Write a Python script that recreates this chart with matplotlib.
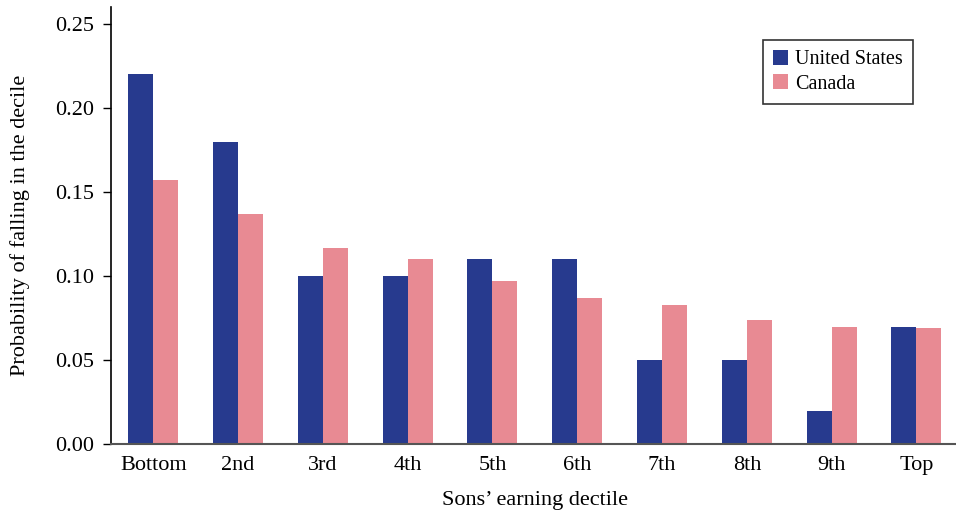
import numpy as np
import matplotlib.pyplot as plt

plt.rcParams['font.family'] = ['Liberation Serif', 'DejaVu Serif']

# deciles of sons' earnings
deciles = ['Bottom', '2nd', '3rd', '4th', '5th', '6th', '7th', '8th', '9th', 'Top']
us = [0.22, 0.18, 0.10, 0.10, 0.11, 0.11, 0.05, 0.05, 0.02, 0.07]
canada = [0.157, 0.137, 0.117, 0.110, 0.097, 0.087, 0.083, 0.074, 0.070, 0.069]
y_ticks = [0.00, 0.05, 0.10, 0.15, 0.20, 0.25]

fig = plt.figure(figsize=(9.56, 5.12), dpi=100)
ax = fig.add_axes([0.116, 0.132, 0.887, 0.854])

x = np.arange(len(deciles))
w = 0.295
ax.bar(x - w / 2, us, width=w, color='#273A8E', label='United States')
ax.bar(x + w / 2, canada, width=w, color='#E88A93', label='Canada')

ax.set_xlim(-0.5, 9.5)
ax.set_ylim(0, 0.26)
ax.set_yticks(y_ticks)
ax.set_yticklabels([f'{v:.2f}' for v in y_ticks])
ax.set_xticks(x)
ax.set_xticklabels(deciles)
ax.tick_params(axis='x', length=0, pad=8, labelsize=16)
ax.tick_params(axis='y', length=6, width=1, pad=6, labelsize=16)

ax.spines['top'].set_visible(False)
ax.spines['right'].set_visible(False)
ax.spines['left'].set_linewidth(1.2)
ax.spines['bottom'].set_color('#555555')
ax.spines['bottom'].set_linewidth(1.5)

ax.set_ylabel('Probability of falling in the decile', fontsize=16, labelpad=18)
ax.set_xlabel('Sons\u2019 earning dectile', fontsize=16, labelpad=12)

leg = ax.legend(loc='upper right', bbox_to_anchor=(0.958, 0.948), fontsize=14.5,
                frameon=True, fancybox=False, edgecolor='black',
                handlelength=0.75, handleheight=0.75, handletextpad=0.35,
                borderpad=0.5, labelspacing=0.25)
leg.get_frame().set_linewidth(1.2)

fig.savefig('out.png', dpi=100)
